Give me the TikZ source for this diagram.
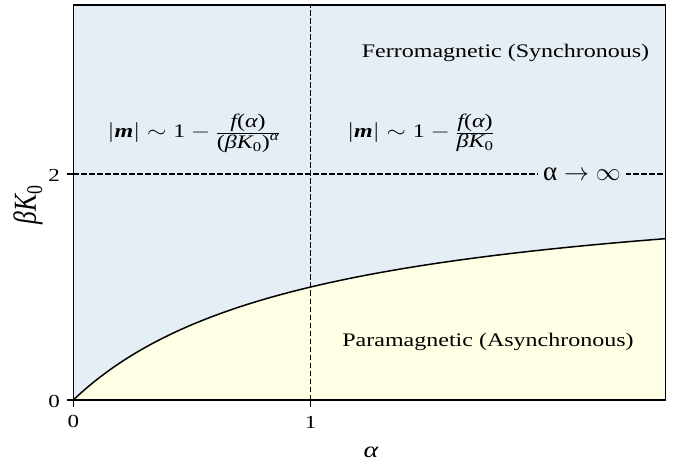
\documentclass[tikz,border=0pt]{standalone}
\usepackage{amsmath}
\usepackage{graphicx}
\usepackage{fontspec}
\setmainfont{Liberation Serif}
\definecolor{ferrocol}{RGB}{230,238,245}
\definecolor{paracol}{RGB}{255,255,229}
\newcommand{\vsq}[1]{\scalebox{1}[0.8]{#1}}
\newcommand{\mi}[1]{\text{\itshape #1}}
\newcommand{\mr}[1]{\text{\upshape #1}}
\newcommand{\bigfrac}[2]{\frac{\textstyle #1}{\textstyle #2}}
\tikzset{
  frameline/.style={line width=1.5pt, black},
  tickline/.style={line width=1.2pt, black},
  dashln/.style={line width=1.3pt, black, dash pattern=on 5.5pt off 2.5pt},
  curveline/.style={line width=1.5pt, black},
  regiontext/.style={font=\fontsize{24}{28}\selectfont, inner sep=0pt},
  formula/.style={font=\fontsize{24}{28}\selectfont, inner sep=0pt},
  ticklabel/.style={font=\fontsize{23}{27}\selectfont, inner sep=0pt},
}
\begin{document}
\begin{tikzpicture}[x=1pt,y=-1pt]
\useasboundingbox (0,0) rectangle (681,468);
% corners
\coordinate (BL) at (73.3,400);
\coordinate (TL) at (73.3,5);
\coordinate (BR) at (665.5,400);
\coordinate (TR) at (665.5,5);
% regions
\fill[ferrocol] (TL) rectangle (BR);
\fill[paracol] (BL) -- plot[domain=0:2.4945,samples=150] ({73.3+237.4*\x},{400-226*\x/(1+\x)}) -- (BR) -- cycle;
% dashed guides
\coordinate (V0) at (310.7,400);
\coordinate (V1) at (310.7,5);
\coordinate (H0) at (73.3,174);
\coordinate (H1) at (665.5,174);
\draw[dashln] (V0) -- (V1);
\draw[dashln] (H0) -- (H1);
\node[fill=ferrocol, inner xsep=5pt, inner ysep=2pt, font=\fontsize{27}{30}\selectfont] (lim) at (582,174) {$\mr{α}\rightarrow\infty$};
% boundary curve
\draw[curveline] plot[domain=0:2.4945,samples=150] ({73.3+237.4*\x},{400-226*\x/(1+\x)});
% frame
\draw[frameline] (TL) rectangle (BR);
% ticks
\coordinate (tx0) at (73.3,406.5);
\coordinate (tx1) at (310.7,406.5);
\coordinate (ty0) at (66.8,400);
\coordinate (ty2) at (66.8,174);
\draw[tickline] (BL) -- (tx0);
\draw[tickline] (V0) -- (tx1);
\draw[tickline] (BL) -- (ty0);
\draw[tickline] (H0) -- (ty2);
% tick labels
\node[ticklabel] (lx0) at (73.3,421.7) {\vsq{0}};
\node[ticklabel] (lx1) at (310.7,422.5) {\vsq{1}};
\node[ticklabel, anchor=east] (ly0) at (60,401) {\vsq{0}};
\node[ticklabel, anchor=east] (ly2) at (60,175) {\vsq{2}};
% axis labels
\node[font=\fontsize{28}{30}\selectfont, inner sep=0pt] (xlab) at (371,452) {\vsq{\itshape α}};
\node[font=\fontsize{32}{34}\selectfont, inner sep=0pt] (ylab) at (28,205) {\rotatebox{90}{\scalebox{0.8}[1]{$\mi{β}\mi{K}_{\mr{0}}$}}};
% region labels
\node[regiontext, anchor=base] (ferro) at (505.5,57.3) {\vsq{Ferromagnetic (Synchronous)}};
\node[regiontext, anchor=base] (para) at (488,346.7) {\vsq{Paramagnetic (Asynchronous)}};
% formulas
\node[formula, anchor=base] (f1) at (194,138) {\vsq{$|\text{\bfseries\itshape m}| \sim \mr{1}-\bigfrac{\mi{f}\mr{(}\mi{α}\mr{)}}{\mr{(}\mi{β}\mi{K}_{\mr{0}}\mr{)}^{\mi{α}}}$}};
\node[formula, anchor=base] (f2) at (421,138) {\vsq{$|\text{\bfseries\itshape m}| \sim \mr{1}-\bigfrac{\mi{f}\mr{(}\mi{α}\mr{)}}{\mi{β}\mi{K}_{\mr{0}}}$}};
\end{tikzpicture}
\end{document}
